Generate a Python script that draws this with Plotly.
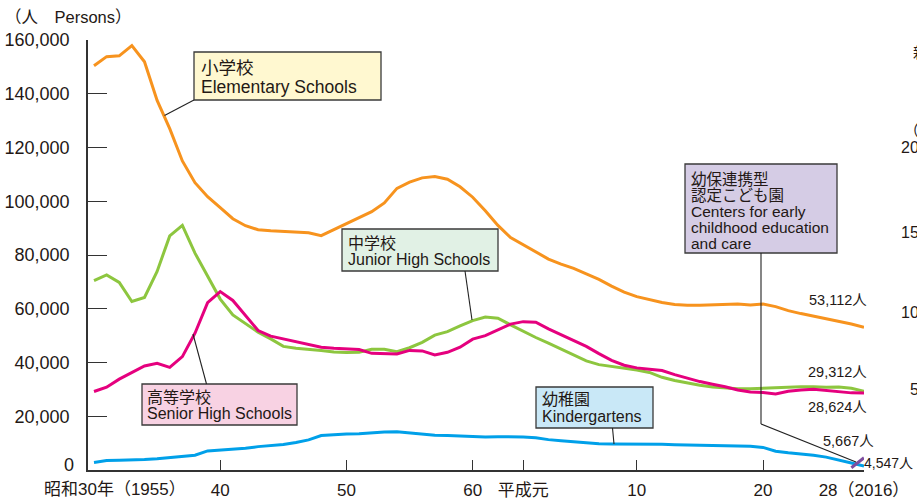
import plotly.graph_objects as go

# ---------------- data ----------------
years = list(range(1955, 2017))

elementary = [150400, 153800, 154100, 157900, 151900, 137500, 127000, 115000, 106900, 101700,
              97600, 93500, 90900, 89400, 89000, 88800, 88600, 88300, 87200, 89400,
              91800, 93800, 96100, 99400, 104800, 107100, 108700, 109200, 108200, 105400,
              101500, 96500, 91000, 86500, 83800, 81000, 78500, 76600, 75000, 73000,
              70900, 68400, 66200, 64500, 63300, 62300, 61600, 61300, 61300, 61400,
              61500, 61800, 61400, 61800, 60800, 59300, 58200, 57200, 56400, 55300,
              54300, 53112]

junior = [70500, 72600, 69800, 62700, 64200, 73900, 87100, 91000, 80700, 72000,
          63600, 57700, 54600, 51300, 48800, 46000, 45300, 45000, 44500, 43900,
          43700, 43800, 44900, 44900, 44000, 45500, 47500, 50200, 51500, 53600,
          55600, 56900, 56500, 54000, 51500, 49300, 47200, 45000, 42800, 40600,
          39200, 38600, 38000, 37200, 36300, 34500, 33300, 32300, 31500, 30900,
          30500, 30200, 30200, 30400, 30600, 30900, 31000, 31000, 30800, 30900,
          30400, 29312]

senior = [29200, 30800, 33800, 36200, 38700, 39700, 38200, 42200, 50900, 62300,
          66400, 63100, 57300, 51900, 49800, 48800, 47600, 46600, 45700, 45300,
          45000, 44800, 43400, 43200, 43200, 44500, 44300, 42800, 43800, 45700,
          48700, 50000, 52100, 54300, 55200, 55000, 52500, 50400, 48200, 46000,
          43300, 40800, 39000, 38000, 37500, 37000, 35500, 34200, 32900, 31900,
          31000, 29800, 29000, 28800, 28300, 29300, 29800, 30000, 29500, 29000,
          28700, 28624]

kinder = [2800, 3500, 3600, 3700, 3900, 4200, 4600, 5000, 5500, 7100,
          7400, 7800, 8100, 8700, 9100, 9500, 10200, 11200, 12800, 13200,
          13400, 13500, 13900, 14100, 14200, 13700, 13200, 12900, 12800, 12600,
          12400, 12300, 12400, 12400, 12300, 12000, 11300, 10900, 10500, 10100,
          9800, 9700, 9700, 9700, 9700, 9600, 9400, 9300, 9200, 9100,
          9000, 8900, 8800, 8400, 7000, 6400, 6000, 5500, 4800, 3800,
          2600, 1500]

center_years = [2015, 2016]
center = [850, 4547]

x_tickvals = [1965, 1975, 1985, 1989, 1998, 2008, 2016]
x_ticktext = ["40", "50", "60", "平成元", "10", "20", "28（2016）"]
y_tickvals = [0, 20000, 40000, 60000, 80000, 100000, 120000, 140000, 160000]
y_ticktext = ["", "20,000", "40,000", "60,000", "80,000", "100,000", "120,000", "140,000", "160,000"]

end_labels = ["53,112人", "29,312人", "28,624人", "5,667人", "4,547人"]

# ---------------- styling ----------------
FONT = "Liberation Sans, Arial, Noto Sans CJK JP, sans-serif"
TXT = "#231815"
L, R, T, B = 88, 864, 40, 470
W, H = 917, 500


def px(x):
    return (x - L) / (R - L)


def py(y):
    return (B - y) / (B - T)


fig = go.Figure()
series = [
    (elementary, "#F7931E", "小学校"),
    (junior, "#8DC63F", "中学校"),
    (senior, "#E5007E", "高等学校"),
    (kinder, "#00A0E9", "幼稚園"),
]
for vals, col, name in series:
    fig.add_trace(go.Scatter(x=years, y=vals, mode="lines", name=name,
                             line=dict(color=col, width=3), cliponaxis=False,
                             hoverinfo="skip"))
fig.add_trace(go.Scatter(x=center_years, y=center, mode="lines", name="幼保連携型認定こども園",
                         line=dict(color="#7D4E9F", width=3), cliponaxis=False,
                         hoverinfo="skip"))

shapes = []
annotations = []


def box(x0, y0, x1, y1, fill):
    shapes.append(dict(type="rect", xref="paper", yref="paper",
                       x0=px(x0), x1=px(x1), y0=py(y1), y1=py(y0),
                       fillcolor=fill, line=dict(color="#3a3a3a", width=1.3), layer="above"))


def seg(pts):
    for (xa, ya), (xb, yb) in zip(pts[:-1], pts[1:]):
        shapes.append(dict(type="line", xref="paper", yref="paper",
                           x0=px(xa), y0=py(ya), x1=px(xb), y1=py(yb),
                           line=dict(color="#222222", width=1.1), layer="above"))


def text(x, y, s, size, anchor="left"):
    annotations.append(dict(xref="paper", yref="paper", x=px(x), y=py(y), text=s,
                            showarrow=False, xanchor=anchor, yanchor="middle",
                            borderpad=0,
                            font=dict(family=FONT, size=size, color=TXT)))


# Elementary
box(194, 52, 381, 100, "#FFF8D0")
text(200, 68, "小学校", 17.5)
text(200, 87.5, "Elementary Schools", 17.5)
seg([(194, 100), (164.5, 115.5)])

# Junior high
box(342, 229, 498, 271, "#E1F1E5")
text(347, 243, "中学校", 16)
text(347, 259.5, "Junior High Schools", 16)
seg([(465, 271), (472, 320)])

# Senior high
box(142, 384, 297, 425, "#F8D2E3")
text(146, 397, "高等学校", 16)
text(146, 413.5, "Senior High Schools", 16)
seg([(206.5, 384), (193, 334)])

# Kindergartens
box(536, 387, 653, 428, "#C9E8F7")
text(541, 400, "幼稚園", 16)
text(541, 416, "Kindergartens", 16)
seg([(612.5, 428), (614, 444)])

# Centers for early childhood education and care
box(685, 164, 837, 253, "#D5CCE5")
for yy, s in zip([179.5, 195.5, 211, 227, 243],
                 ["幼保連携型", "認定こども園", "Centers for early", "childhood education", "and care"]):
    text(690, yy, s, 15.5)
seg([(761, 253), (761, 424), (856, 462)])

# End value labels
text(868, 300, end_labels[0], 14.5, "right")
text(868, 372, end_labels[1], 14.5, "right")
text(868, 407, end_labels[2], 14.5, "right")
text(875, 440.5, end_labels[3], 14.5, "right")
text(863, 463, end_labels[4], 14, "left")

# Axis titles / special tick labels
text(4, 17, "（人　Persons）", 16.5)
text(75, 465, "0", 18, "right")
text(43, 489, "昭和30年（1955）", 17, "left")

# Fragments of a neighbouring chart cut off at the right edge
text(912, 53, "新", 15)
text(903, 130, "（人", 15)
for yy, s in zip([147, 232, 312, 389], ["200", "150", "100", "50"]):
    text(929, yy, s, 16, "right")

fig.update_layout(
    width=W, height=H,
    margin=dict(l=L, r=W - R, t=T, b=H - B, pad=0),
    paper_bgcolor="white", plot_bgcolor="white",
    showlegend=False,
    font=dict(family=FONT, size=18, color=TXT),
    shapes=shapes, annotations=annotations,
    xaxis=dict(range=[1954.525, 2016], showgrid=False, zeroline=False, automargin=False,
               showline=True, linecolor="#333333", linewidth=1.5,
               ticks="inside", ticklen=10, tickwidth=1.3, tickcolor="#333333",
               tickvals=x_tickvals, ticktext=x_ticktext,
               tickfont=dict(family=FONT, size=17, color=TXT),
               ticklabelstandoff=4),
    yaxis=dict(range=[0, 160000], showgrid=False, zeroline=False, automargin=False,
               showline=True, linecolor="#333333", linewidth=1.5,
               ticks="inside", ticklen=19, tickwidth=1.3, tickcolor="#333333",
               tickvals=y_tickvals, ticktext=y_ticktext,
               tickfont=dict(family=FONT, size=18, color=TXT),
               ticklabelstandoff=13),
)

fig.write_html("out.html", config={"displayModeBar": False},
               post_script="document.body.style.margin='0';document.body.style.overflow='hidden';")
